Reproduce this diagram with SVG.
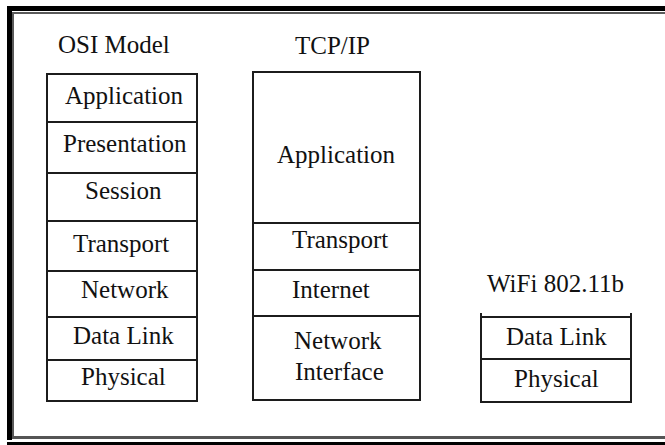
<svg xmlns="http://www.w3.org/2000/svg" width="665" height="445" viewBox="0 0 665 445">
  <style>
    .cell { fill: #ffffff; stroke: #1c1c1c; stroke-width: 2; }
    .div { stroke: #1c1c1c; stroke-width: 2; }
  </style>

  <!-- page and sunken frame -->
  <rect x="0" y="0" width="665" height="445" fill="#ffffff"/>
  <rect x="7" y="6" width="658" height="5" fill="#000000"/>
  <rect x="7" y="6" width="5" height="434" fill="#000000"/>
  <rect x="12" y="12" width="653" height="2" fill="#5a5a5a"/>
  <rect x="12" y="12" width="2" height="426" fill="#5a5a5a"/>
  <rect x="12" y="436" width="653" height="3" fill="#555555"/>
  <rect x="7" y="442" width="658" height="3" fill="#000000"/>

  <!-- OSI reference model stack -->
  <g id="osi-model">
    <text font-family="Liberation Serif" font-size="25" fill="#111111" x="58" y="53">OSI Model</text>
    <rect class="cell" x="47" y="74" width="150" height="327"/>
    <line class="div" x1="47" y1="122" x2="197" y2="122"/>
    <line class="div" x1="47" y1="173" x2="197" y2="173"/>
    <line class="div" x1="47" y1="221" x2="197" y2="221"/>
    <line class="div" x1="47" y1="271" x2="197" y2="271"/>
    <line class="div" x1="47" y1="317" x2="197" y2="317"/>
    <line class="div" x1="47" y1="360" x2="197" y2="360"/>
    <text font-family="Liberation Serif" font-size="25" fill="#111111" x="65" y="104">Application</text>
    <text font-family="Liberation Serif" font-size="25" fill="#111111" x="63" y="152">Presentation</text>
    <text font-family="Liberation Serif" font-size="25" fill="#111111" x="85" y="199">Session</text>
    <text font-family="Liberation Serif" font-size="25" fill="#111111" x="73" y="252">Transport</text>
    <text font-family="Liberation Serif" font-size="25" fill="#111111" x="81" y="298">Network</text>
    <text font-family="Liberation Serif" font-size="25" fill="#111111" x="73" y="344">Data Link</text>
    <text font-family="Liberation Serif" font-size="25" fill="#111111" x="81" y="385">Physical</text>
  </g>

  <!-- TCP/IP stack -->
  <g id="tcp-ip">
    <text font-family="Liberation Serif" font-size="25" fill="#111111" x="295" y="54">TCP/IP</text>
    <rect class="cell" x="253" y="72" width="167" height="328"/>
    <line class="div" x1="253" y1="223" x2="420" y2="223"/>
    <line class="div" x1="253" y1="270" x2="420" y2="270"/>
    <line class="div" x1="253" y1="316" x2="420" y2="316"/>
    <text font-family="Liberation Serif" font-size="25" fill="#111111" x="277" y="163">Application</text>
    <text font-family="Liberation Serif" font-size="25" fill="#111111" x="292" y="248">Transport</text>
    <text font-family="Liberation Serif" font-size="25" fill="#111111" x="292" y="298">Internet</text>
    <text font-family="Liberation Serif" font-size="25" fill="#111111" x="294" y="349">Network</text>
    <text font-family="Liberation Serif" font-size="25" fill="#111111" x="295" y="380">Interface</text>
  </g>

  <!-- WiFi 802.11b stack -->
  <g id="wifi-80211b">
    <text font-family="Liberation Serif" font-size="25" fill="#111111" x="487" y="292">WiFi 802.11b</text>
    <rect class="cell" x="481" y="317" width="150" height="85"/>
    <line class="div" x1="481" y1="313" x2="481" y2="317"/>
    <line class="div" x1="631" y1="313" x2="631" y2="317"/>
    <line class="div" x1="481" y1="359" x2="631" y2="359"/>
    <text font-family="Liberation Serif" font-size="25" fill="#111111" x="506" y="345">Data Link</text>
    <text font-family="Liberation Serif" font-size="25" fill="#111111" x="514" y="387">Physical</text>
  </g>
</svg>
